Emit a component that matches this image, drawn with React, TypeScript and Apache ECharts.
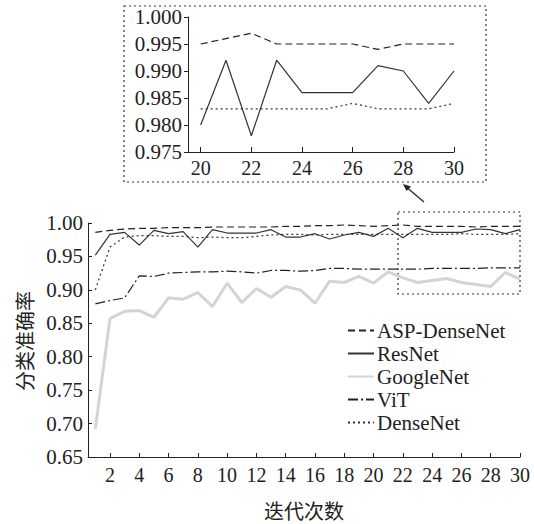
import React, { useEffect, useRef } from "react";
import * as echarts from "echarts";

const iterations = [1, 2, 3, 4, 5, 6, 7, 8, 9, 10, 11, 12, 13, 14, 15, 16, 17, 18, 19, 20, 21, 22, 23, 24, 25, 26, 27, 28, 29, 30];
const xTickValues = [2, 4, 6, 8, 10, 12, 14, 16, 18, 20, 22, 24, 26, 28, 30];
const insetTickValues = [20, 22, 24, 26, 28, 30];
const seriesNames = ["ASP-DenseNet", "ResNet", "GoogleNet", "ViT", "DenseNet"];

const aspDenseNet = [0.986, 0.989, 0.991, 0.992, 0.992, 0.993, 0.993, 0.993, 0.994, 0.994, 0.994, 0.994, 0.994, 0.995, 0.995, 0.996, 0.996, 0.997, 0.996, 0.995, 0.996, 0.997, 0.995, 0.995, 0.995, 0.995, 0.994, 0.995, 0.995, 0.995];
const resNet = [0.952, 0.983, 0.986, 0.967, 0.989, 0.984, 0.987, 0.964, 0.990, 0.985, 0.985, 0.985, 0.990, 0.979, 0.979, 0.984, 0.976, 0.982, 0.986, 0.980, 0.992, 0.978, 0.992, 0.986, 0.986, 0.986, 0.991, 0.990, 0.984, 0.990];
const googleNet = [0.692, 0.857, 0.868, 0.869, 0.859, 0.888, 0.886, 0.896, 0.875, 0.910, 0.881, 0.902, 0.889, 0.905, 0.900, 0.880, 0.913, 0.911, 0.920, 0.910, 0.927, 0.918, 0.911, 0.914, 0.917, 0.911, 0.908, 0.905, 0.926, 0.916];
const viT = [0.879, 0.884, 0.888, 0.921, 0.920, 0.925, 0.926, 0.927, 0.927, 0.928, 0.927, 0.925, 0.929, 0.929, 0.928, 0.929, 0.932, 0.932, 0.931, 0.931, 0.931, 0.931, 0.931, 0.932, 0.932, 0.932, 0.932, 0.933, 0.933, 0.933];
const denseNet = [0.900, 0.964, 0.979, 0.981, 0.981, 0.980, 0.980, 0.978, 0.979, 0.978, 0.978, 0.980, 0.982, 0.983, 0.983, 0.982, 0.983, 0.983, 0.983, 0.983, 0.983, 0.983, 0.983, 0.983, 0.983, 0.984, 0.983, 0.983, 0.983, 0.984];

const FONT = "Liberation Serif";
const CJK = "Noto Sans CJK SC";
const TXT = "#222";

const styles: Record<string, any> = {
  "ASP-DenseNet": { color: "#222", width: 1.2, type: [7, 4] },
  ResNet: { color: "#333", width: 1.2, type: "solid" },
  GoogleNet: { color: "#d4d4d4", width: 3, type: "solid" },
  ViT: { color: "#222", width: 1.2, type: [10, 3, 2, 3] },
  DenseNet: { color: "#333", width: 1.2, type: [2, 3] },
};

const valuesByName: Record<string, number[]> = {
  "ASP-DenseNet": aspDenseNet,
  ResNet: resNet,
  GoogleNet: googleNet,
  ViT: viT,
  DenseNet: denseNet,
};

export default function App() {
  const ref = useRef<HTMLDivElement>(null);
  useEffect(() => {
    if (!ref.current) return;
    const chart = echarts.init(ref.current, null, { renderer: "svg" });
    const pairs = (vals: number[]) => iterations.map((x, i) => [x, vals[i]]);
    const insetPairs = (vals: number[]) =>
      iterations.map((x, i) => [x, vals[i]]).filter((p) => p[0] >= 20);

    const mainSeries = seriesNames.map((name) => ({
      name,
      type: "line",
      xAxisIndex: 0,
      yAxisIndex: 0,
      symbol: "none",
      data: pairs(valuesByName[name]),
      lineStyle: styles[name],
      itemStyle: { color: styles[name].color },
      z: name === "GoogleNet" ? 1 : 2,
    }));
    const insetSeries = ["ASP-DenseNet", "ResNet", "DenseNet"].map((name) => ({
      name: name + " (inset)",
      type: "line",
      xAxisIndex: 1,
      yAxisIndex: 1,
      symbol: "none",
      data: insetPairs(valuesByName[name]),
      lineStyle: styles[name],
      itemStyle: { color: styles[name].color },
    }));

    const axisLine = { show: true, lineStyle: { color: "#222", width: 1 } };
    const labelStyle = { color: TXT, fontSize: 20, fontFamily: FONT, fontWeight: "normal" as const };

    chart.setOption({
      animation: false,
      backgroundColor: "#fff",
      textStyle: { fontFamily: FONT },
      grid: [
        { left: 88, top: 223, right: 14, bottom: 67 },
        { left: 188, top: 17, right: 80, bottom: 372 },
      ],
      xAxis: [
        {
          type: "value",
          gridIndex: 0,
          min: 0.5,
          max: 30,
          axisLine,
          splitLine: { show: false },
          axisTick: { show: true, inside: true, length: 4, lineStyle: { color: "#222" }, customValues: xTickValues },
          axisLabel: { ...labelStyle, customValues: xTickValues, margin: 8 },
        },
        {
          type: "value",
          gridIndex: 1,
          min: 19.5,
          max: 30,
          axisLine,
          splitLine: { show: false },
          axisTick: { show: true, inside: true, length: 5, lineStyle: { color: "#222" }, customValues: insetTickValues },
          axisLabel: { ...labelStyle, customValues: insetTickValues, margin: 6 },
        },
      ],
      yAxis: [
        {
          type: "value",
          gridIndex: 0,
          min: 0.65,
          max: 1.0,
          interval: 0.05,
          axisLine,
          splitLine: { show: false },
          axisTick: { show: true, inside: true, length: 4, lineStyle: { color: "#222" } },
          axisLabel: { ...labelStyle, fontSize: 21, margin: 5, formatter: (v: number) => v.toFixed(2) },
        },
        {
          type: "value",
          gridIndex: 1,
          min: 0.975,
          max: 1.0,
          interval: 0.005,
          axisLine,
          splitLine: { show: false },
          axisTick: { show: true, inside: false, length: 4, lineStyle: { color: "#222" } },
          axisLabel: { ...labelStyle, fontSize: 21, margin: 6, formatter: (v: number) => v.toFixed(3) },
        },
      ],
      legend: {
        data: seriesNames,
        orient: "vertical",
        left: 342,
        top: 315,
        itemWidth: 26,
        itemHeight: 14,
        itemGap: 2,
        itemStyle: { color: "rgba(0,0,0,0)", borderColor: "rgba(0,0,0,0)", borderWidth: 0, opacity: 0 },
        textStyle: { color: TXT, fontSize: 21, fontFamily: FONT, padding: [0, 0, 0, -2] },
        selectedMode: false,
      },
      series: [...mainSeries, ...insetSeries],
      graphic: [
        {
          type: "rect",
          shape: { x: 124, y: 6, width: 362, height: 176 },
          style: { fill: "none", stroke: "#333", lineWidth: 1.2, lineDash: [2, 3] },
        },
        {
          type: "rect",
          shape: { x: 398, y: 212, width: 122, height: 82 },
          style: { fill: "none", stroke: "#333", lineWidth: 1.2, lineDash: [2, 3] },
        },
        {
          type: "line",
          shape: { x1: 424, y1: 202, x2: 405, y2: 186 },
          style: { stroke: "#222", lineWidth: 1.2 },
        },
        {
          type: "polygon",
          shape: { points: [[403, 184], [411, 186.5], [406.5, 191]] },
          style: { fill: "#222" },
        },
        {
          type: "text",
          x: 24,
          y: 341,
          rotation: Math.PI / 2,
          style: { text: "分类准确率", fontFamily: CJK, fontSize: 20, fill: TXT, align: "center", verticalAlign: "middle" },
        },
        {
          type: "text",
          x: 304,
          y: 510,
          style: { text: "迭代次数", fontFamily: CJK, fontSize: 20, fill: TXT, align: "center", verticalAlign: "middle" },
        },
      ],
    });
    return () => chart.dispose();
  }, []);
  return (
    <div
      ref={ref}
      style={{ position: "fixed", left: 0, top: 0, width: 534, height: 524, background: "#fff" }}
    />
  );
}
